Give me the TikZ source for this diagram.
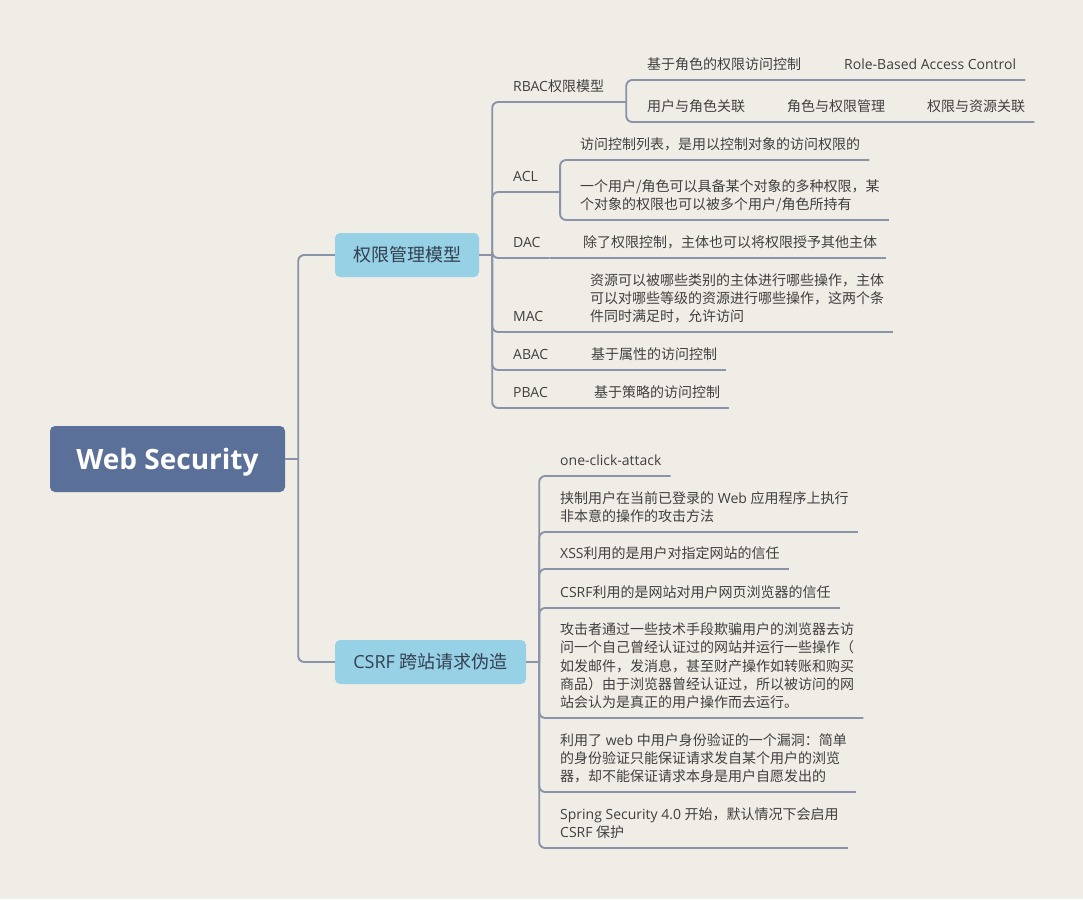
\documentclass[tikz,border=0pt]{standalone}
\usepackage{fontspec}
\setmainfont{Open Sans}
\newfontfamily\cjk{Noto Sans CJK SC}
\usepackage{tikz}
\usetikzlibrary{positioning,calc}

\definecolor{bgcol}{RGB}{240,236,230}
\definecolor{linecol}{RGB}{137,148,168}
\definecolor{rootcol}{RGB}{91,112,152}
\definecolor{branchcol}{RGB}{150,209,230}
\definecolor{leaftext}{RGB}{64,64,64}
\definecolor{branchtext}{RGB}{52,64,80}

\newcommand{\zh}[1]{{\cjk #1}}

\tikzset{
  rootbox/.style={rectangle, rounded corners=5pt, fill=rootcol, minimum width=235pt, minimum height=66pt, text height=20pt, text depth=0pt, text=white, font=\fontsize{28}{34}\selectfont\bfseries},
  branchbox/.style={rectangle, rounded corners=5pt, fill=branchcol, minimum height=44pt, text=branchtext, font=\fontsize{18}{22}\selectfont},
  leaf/.style={anchor=south west, align=left, inner xsep=9pt, inner ysep=10pt, text depth=0pt, text=leaftext, font=\fontsize{14}{18.3}\selectfont},
  conn/.style={draw=linecol, line width=1.9pt, rounded corners=6pt},
}

\begin{document}
\begin{tikzpicture}[x=1pt,y=-1pt]
\fill[bgcol] (0,0) rectangle (1083,899);
\useasboundingbox (0,0) rectangle (1083,899);

% Central topic
\node[rootbox] (web) at (167.5,459) {Web Security};

% Main topics
\node[branchbox, minimum width=144pt] (perm) at (407,255) {\zh{权限管理模型}};
\node[branchbox, minimum width=191pt] (csrf) at (430.5,662) {CSRF \zh{跨站请求伪造}};

% Permission models
\node[leaf] (rbac) at (504,102) {RBAC\zh{权限模型}};
\node[leaf] (rbac1) at (638,80) {\zh{基于角色的权限访问控制}\hspace{43pt}Role-Based Access Control};
\node[leaf] (rbac2) at (638,122) {\zh{用户与角色关联}\hspace{42pt}\zh{角色与权限管理}\hspace{42pt}\zh{权限与资源关联}};
\node[leaf] (acl) at (504,192) {ACL};
\node[leaf] (acl1) at (571,160) {\zh{访问控制列表，是用以控制对象的访问权限的}};
\node[leaf] (acl2) at (571,220) {\zh{一个用户/角色可以具备某个对象的多种权限，某}\\\zh{个对象的权限也可以被多个用户/角色所持有}};
\node[leaf] (dac) at (504,258) {DAC};
\node[leaf] (dac1) at (574,258) {\zh{除了权限控制，主体也可以将权限授予其他主体}};
\node[leaf] (mac) at (504,332) {MAC};
\node[leaf] (mac1) at (581,332) {\zh{资源可以被哪些类别的主体进行哪些操作，主体}\\\zh{可以对哪些等级的资源进行哪些操作，这两个条}\\\zh{件同时满足时，允许访问}};
\node[leaf] (abac) at (504,370) {ABAC};
\node[leaf] (abac1) at (582,370) {\zh{基于属性的访问控制}};
\node[leaf] (pbac) at (504,408) {PBAC};
\node[leaf] (pbac1) at (585,408) {\zh{基于策略的访问控制}};

% CSRF notes
\node[leaf] (oneclick) at (551,476) {one-click-attack};
\node[leaf] (hijack) at (551,532) {\zh{挟制用户在当前已登录的} Web \zh{应用程序上执行}\\\zh{非本意的操作的攻击方法}};
\node[leaf] (xss) at (551,569) {XSS\zh{利用的是用户对指定网站的信任}};
\node[leaf] (trust) at (551,608) {CSRF\zh{利用的是网站对用户网页浏览器的信任}};
\node[leaf] (attack) at (551,718) {\zh{攻击者通过一些技术手段欺骗用户的浏览器去访}\\\zh{问一个自己曾经认证过的网站并运行一些操作（}\\\zh{如发邮件，发消息，甚至财产操作如转账和购买}\\\zh{商品）由于浏览器曾经认证过，所以被访问的网}\\\zh{站会认为是真正的用户操作而去运行。}};
\node[leaf] (flaw) at (551,792) {\zh{利用了} web \zh{中用户身份验证的一个漏洞：简单}\\\zh{的身份验证只能保证请求发自某个用户的浏览}\\\zh{器，却不能保证请求本身是用户自愿发出的}};
\node[leaf] (spring) at (551,848) {Spring Security 4.0 \zh{开始，默认情况下会启用}\\CSRF \zh{保护}};

% Central topic to main topics
\draw[conn] (web.east) -- ++(13,0) coordinate (webj);
\draw[conn] (webj) |- (perm.west);
\draw[conn] (webj) |- (csrf.west);

% Permission model branch
\draw[conn] (perm.east) -- ++(13,0) coordinate (permj);
\draw[conn] (permj) |- (rbac.south east);
\draw[conn] (permj) |- (acl.south east);
\draw[conn] (permj) |- (dac.south east);
\draw[conn] (permj) |- (mac.south east);
\draw[conn] (permj) |- (abac.south east);
\draw[conn] (permj) |- (pbac.south east);

\draw[conn] (rbac.south east) -- ++(13,0) coordinate (rbacj);
\draw[conn] (rbacj) |- (rbac1.south east);
\draw[conn] (rbacj) |- (rbac2.south east);

\draw[conn] (acl.south east) -- ++(13,0) coordinate (aclj);
\draw[conn] (aclj) |- (acl1.south east);
\draw[conn] (aclj) |- (acl2.south east);

\draw[conn] (dac.south east) -- (dac1.south east);
\draw[conn] (mac.south east) -- (mac1.south east);
\draw[conn] (abac.south east) -- (abac1.south east);
\draw[conn] (pbac.south east) -- (pbac1.south east);

% CSRF branch
\draw[conn] (csrf.east) -- ++(13,0) coordinate (csrfj);
\draw[conn] (csrfj) |- (oneclick.south east);
\draw[conn] (csrfj) |- (hijack.south east);
\draw[conn] (csrfj) |- (xss.south east);
\draw[conn] (csrfj) |- (trust.south east);
\draw[conn] (csrfj) |- (attack.south east);
\draw[conn] (csrfj) |- (flaw.south east);
\draw[conn] (csrfj) |- (spring.south east);

\end{tikzpicture}
\end{document}
